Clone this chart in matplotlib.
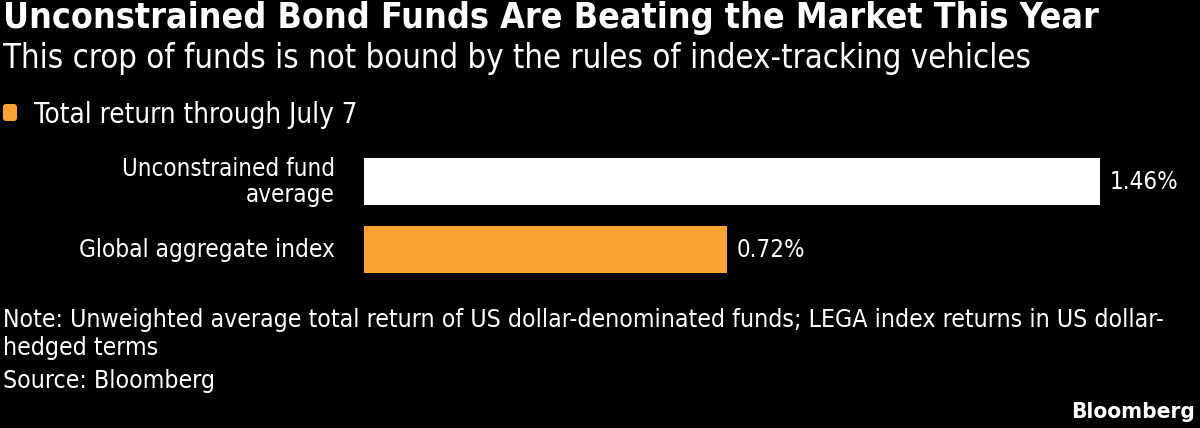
import matplotlib
matplotlib.use('Agg')
import matplotlib.pyplot as plt
from matplotlib.patches import FancyBboxPatch

# ---------------- data ----------------
categories = ["Unconstrained fund\naverage", "Global aggregate index"]
values = [1.46, 0.72]
value_labels = ["1.46%", "0.72%"]
title = "Unconstrained Bond Funds Are Beating the Market This Year"
subtitle = "This crop of funds is not bound by the rules of index-tracking vehicles"
legend_label = "Total return through July 7"
note_lines = ["Note: Unweighted average total return of US dollar-denominated funds; LEGA index returns in US dollar-",
              "hedged terms"]
source = "Source: Bloomberg"
brand = "Bloomberg"

# ---------------- style ----------------
bar_colors = ["#FFFFFF", "#FBA12F"]
ORANGE = "#FBA12F"
plt.rcParams['font.family'] = ['DejaVu Sans']
plt.rcParams['font.stretch'] = 'condensed'

W, H, DPI = 1200, 428, 100
fig = plt.figure(figsize=(W / DPI, H / DPI), dpi=DPI, facecolor='black')
renderer = fig.canvas.get_renderer()


def fit_text(x, y, s, width, ha='left', va='baseline', size=20, **kw):
    """Place text at pixel position (x from left, y from top) and scale to width px."""
    t = fig.text(x / W, 1 - y / H, s, ha=ha, va=va, fontsize=size,
                 color=kw.pop('color', 'white'), **kw)
    bb = t.get_window_extent(renderer)
    t.set_fontsize(size * width / bb.width)
    return t


# Title / subtitle
fit_text(3, 28, title, 1097, weight='bold')
fit_text(3, 68, subtitle, 1027)

# Legend
fig.patches.append(FancyBboxPatch((3 / W, 1 - 121 / H), 14 / W, 17 / H,
                                  boxstyle="round,pad=0,rounding_size=0.0025",
                                  transform=fig.transFigure, facecolor=ORANGE,
                                  edgecolor='none', mutation_aspect=W / H))
fit_text(34, 123, legend_label, 323)

# Bars
ax_left, ax_right, ax_top, ax_bottom = 364, 1100, 158, 273
ax = fig.add_axes([ax_left / W, 1 - ax_bottom / H, (ax_right - ax_left) / W, (ax_bottom - ax_top) / H])
ax.set_facecolor('black')
pos = list(range(len(values)))
ax.barh(pos, values, height=0.69, color=bar_colors, edgecolor='none')
ax.set_xlim(0, max(values))
ax.set_ylim(len(values) - 1 + 0.345, -0.345)
ax.axis('off')

# category labels
l1, l2 = categories[0].split("\n")
t1 = fit_text(335, 176, l1, 212, ha='right')
label_size = t1.get_fontsize()
fig.text(335 / W, 1 - 202 / H, l2, ha='right', va='baseline', color='white',
         fontsize=label_size)
fit_text(335, 257, categories[1], 255, ha='right')

# value labels
for i, (v, lab) in enumerate(zip(values, value_labels)):
    ax.annotate(lab, (v, i), xytext=(10, -7.5), textcoords='offset pixels',
                ha='left', va='baseline', color='white', fontsize=label_size,
                annotation_clip=False)

# Notes
tn = fit_text(3, 327, note_lines[0], 1162)
fig.text(3 / W, 1 - 355 / H, note_lines[1], ha='left', va='baseline', color='white',
         fontsize=tn.get_fontsize())
fig.text(3 / W, 1 - 388 / H, source, ha='left', va='baseline', color='white',
         fontsize=tn.get_fontsize())

# Brand
fit_text(1195, 418, brand, 124, ha='right', weight='bold')

fig.savefig('out.png', dpi=DPI, facecolor='black')
